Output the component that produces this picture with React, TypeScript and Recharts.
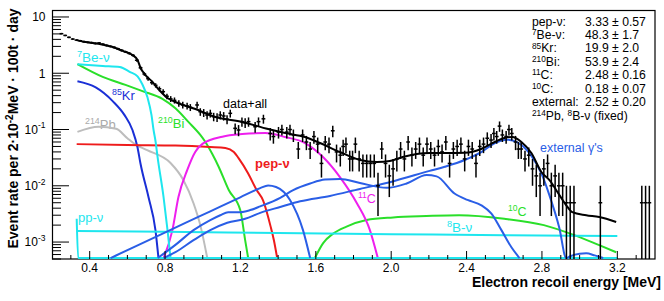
import React from 'react';
import { ComposedChart, Line, Scatter, XAxis, YAxis, ErrorBar } from 'recharts';

const FONT = '"Liberation Sans", Arial, Helvetica, sans-serif';
const Y_MIN = 5e-4;
const Y_MAX = 13.3;
const FLOOR = 5.2e-4;
const BIN_HALF = 0.01;

const CYAN = '#1ee6ee';
const GREEN = '#2adf2a';
const BLUE_KR = '#1a2fd6';
const BLUE_EXT = '#2a5ee6';
const GRAY = '#bdbdbd';
const RED = '#ee1b1b';
const MAGENTA = '#ee1fee';

// measured spectrum: [energy MeV, rate, sigma]
const measured: [number, number, number][] = [
  [0.25, 5.05, 0.159], [0.27, 4.7, 0.153], [0.29, 4.35, 0.147], [0.31, 4.05, 0.142], [0.33, 3.88, 0.139],
  [0.35, 3.78, 0.137], [0.37, 3.63, 0.135], [0.39, 3.55, 0.133], [0.41, 3.5, 0.132], [0.43, 3.38, 0.13],
  [0.45, 3.45, 0.131], [0.47, 3.28, 0.128], [0.49, 3.12, 0.125], [0.51, 3.0, 0.122], [0.53, 2.88, 0.12],
  [0.55, 2.72, 0.117], [0.57, 2.55, 0.113], [0.59, 2.4, 0.11], [0.61, 2.25, 0.106], [0.63, 2.08, 0.102],
  [0.65, 1.7, 0.092], [0.67, 1.25, 0.079], [0.69, 0.97, 0.07], [0.71, 0.8, 0.063], [0.73, 0.68, 0.058],
  [0.75, 0.61, 0.055], [0.77, 0.53, 0.051], [0.79, 0.47, 0.048], [0.81, 0.39, 0.044], [0.83, 0.35, 0.042],
  [0.85, 0.33, 0.041], [0.873, 0.292, 0.038], [0.894, 0.273, 0.037], [0.917, 0.262, 0.036], [0.934, 0.248, 0.035],
  [0.97, 0.273, 0.037], [0.987, 0.207, 0.032], [1.005, 0.199, 0.032], [1.023, 0.181, 0.03], [1.04, 0.194, 0.031],
  [1.058, 0.169, 0.029], [1.076, 0.165, 0.029], [1.093, 0.181, 0.03], [1.111, 0.174, 0.03], [1.129, 0.152, 0.028],
  [1.146, 0.194, 0.031], [1.172, 0.105, 0.023], [1.19, 0.098, 0.022], [1.208, 0.138, 0.026], [1.225, 0.132, 0.026],
  [1.243, 0.138, 0.026], [1.278, 0.112, 0.024], [1.296, 0.138, 0.026], [1.322, 0.155, 0.028], [1.358, 0.085, 0.021],
  [1.375, 0.075, 0.019], [1.402, 0.09, 0.021], [1.42, 0.1, 0.022], [1.446, 0.09, 0.021], [1.463, 0.1, 0.022],
  [1.481, 0.08, 0.02], [1.507, 0.045, 0.015], [1.53, 0.08, 0.02], [1.55, 0.06, 0.017], [1.57, 0.045, 0.015],
  [1.59, 0.075, 0.019], [1.61, 0.055, 0.017], [1.63, 0.025, 0.011], [1.65, 0.06, 0.017], [1.67, 0.055, 0.017],
  [1.69, 0.095, 0.022], [1.71, 0.04, 0.014], [1.73, 0.035, 0.013], [1.745, 0.05, 0.016], [1.76, 0.055, 0.017],
  [1.78, 0.03, 0.012], [1.795, 0.03, 0.012], [1.81, 0.055, 0.017], [1.83, 0.03, 0.012], [1.85, 0.025, 0.011],
  [1.87, 0.025, 0.011], [1.89, 0.025, 0.011], [1.91, 0.025, 0.011], [1.93, 0.01, 0.0071], [1.95, 0.045, 0.015],
  [1.97, 0.025, 0.011], [1.99, 0.015, 0.0087], [2.01, 0.02, 0.01], [2.03, 0.03, 0.012], [2.05, 0.045, 0.015],
  [2.07, 0.03, 0.012], [2.09, 0.06, 0.017], [2.11, 0.035, 0.013], [2.13, 0.045, 0.015], [2.15, 0.055, 0.017],
  [2.17, 0.035, 0.013], [2.19, 0.055, 0.017], [2.21, 0.045, 0.015], [2.23, 0.035, 0.013], [2.25, 0.05, 0.016],
  [2.27, 0.04, 0.014], [2.29, 0.06, 0.017], [2.31, 0.025, 0.011], [2.33, 0.045, 0.015], [2.35, 0.05, 0.016],
  [2.37, 0.055, 0.017], [2.39, 0.03, 0.012], [2.41, 0.05, 0.016], [2.43, 0.045, 0.015], [2.45, 0.025, 0.011],
  [2.47, 0.05, 0.016], [2.49, 0.055, 0.017], [2.51, 0.07, 0.019], [2.53, 0.065, 0.018], [2.545, 0.085, 0.021],
  [2.56, 0.075, 0.019], [2.575, 0.115, 0.024], [2.59, 0.08, 0.02], [2.61, 0.075, 0.019], [2.625, 0.1, 0.022],
  [2.64, 0.085, 0.021], [2.66, 0.06, 0.017], [2.675, 0.045, 0.015], [2.69, 0.045, 0.015], [2.71, 0.03, 0.012],
  [2.73, 0.035, 0.013], [2.75, 0.02, 0.01], [2.77, 0.015, 0.0087], [2.79, 0.01, 0.0071], [2.81, 0.02, 0.01],
  [2.83, 0.025, 0.011], [2.85, 0.01, 0.0071], [2.87, 0.015, 0.0087], [2.89, 0.01, 0.0071], [2.91, 0.01, 0.0071],
  [2.93, 0.005, 0.005], [2.95, 0.005, 0.005], [2.97, 0.005, 0.005], [3.11, 0.005, 0.005], [3.33, 0.005, 0.005],
  [3.35, 0.005, 0.005], [3.37, 0.005, 0.005],
];

const totalFit: [number, number][] = [
  [0.33, 3.88], [0.379, 3.59], [0.453, 3.31], [0.522, 2.93], [0.575, 2.49], [0.627, 2.11], [0.654, 1.72],
  [0.67, 1.24], [0.696, 0.93], [0.733, 0.7], [0.77, 0.5], [0.813, 0.363], [0.855, 0.308], [0.961, 0.231],
  [1.067, 0.167], [1.21, 0.136], [1.347, 0.102], [1.437, 0.0866], [1.543, 0.0736], [1.622, 0.0575],
  [1.728, 0.0398], [1.834, 0.0287], [1.924, 0.0264], [1.993, 0.0275], [2.061, 0.0324], [2.135, 0.0367],
  [2.204, 0.0382], [2.284, 0.0382], [2.39, 0.0385], [2.48, 0.0455], [2.532, 0.056], [2.601, 0.0706],
  [2.643, 0.0736], [2.691, 0.06], [2.744, 0.0382], [2.797, 0.0176], [2.839, 0.0127], [2.892, 0.0069],
  [2.929, 0.0045], [2.961, 0.0034], [3.035, 0.003], [3.104, 0.00278], [3.194, 0.00227],
];

const be7: [number, number][] = [
  [0.335, 1.45], [0.47, 1.35], [0.56, 1.29], [0.612, 1.06], [0.654, 0.88], [0.68, 0.63], [0.707, 0.37],
  [0.728, 0.18], [0.739, 0.098], [0.75, 0.06], [0.76, 0.033], [0.792, 0.0063], [0.813, 0.00163], [0.829, FLOOR],
];

const bi210: [number, number][] = [
  [0.335, 1.45], [0.469, 0.86], [0.59, 0.62], [0.68, 0.48], [0.786, 0.35], [0.855, 0.238], [0.925, 0.135],
  [0.987, 0.08], [1.014, 0.06], [1.05, 0.037], [1.085, 0.0216], [1.138, 0.0084], [1.199, 0.0037],
  [1.225, 0.00108], [1.241, FLOOR],
];

const kr85: [number, number][] = [
  [0.335, 0.72], [0.432, 0.56], [0.522, 0.32], [0.585, 0.18], [0.627, 0.098], [0.654, 0.048],
  [0.669, 0.0254], [0.712, 0.0063], [0.749, 0.00163], [0.765, FLOOR],
];

const pb214: [number, number][] = [
  [0.335, 0.091], [0.447, 0.112], [0.54, 0.103], [0.6, 0.07], [0.64, 0.055], [0.705, 0.043], [0.829, 0.0254],
  [0.897, 0.0127], [0.951, 0.0049], [0.987, 0.002], [1.024, FLOOR],
];

const pep: [number, number][] = [
  [0.331, 0.055], [0.6, 0.053], [0.855, 0.052], [1.04, 0.049], [1.12, 0.047], [1.165, 0.04], [1.19, 0.031],
  [1.241, 0.0166], [1.286, 0.0084], [1.32, 0.0055], [1.36, 0.0019], [1.377, 0.0011], [1.395, FLOOR],
];

const c11: [number, number][] = [
  [0.792, FLOOR], [0.839, 0.00163], [0.871, 0.0063], [0.918, 0.0191], [0.96, 0.0398], [1.0, 0.056],
  [1.104, 0.0745], [1.209, 0.083], [1.331, 0.0866], [1.437, 0.0736], [1.543, 0.0575], [1.638, 0.0325],
  [1.728, 0.0143], [1.818, 0.0049], [1.887, 0.00163], [1.929, FLOOR],
];

const c10: [number, number][] = [
  [1.595, FLOOR], [1.639, 0.00096], [1.692, 0.00141], [1.763, 0.00188], [1.869, 0.00246], [2.01, 0.00274],
  [2.187, 0.0029], [2.36, 0.003], [2.6, 0.0026], [2.81, 0.002], [2.971, 0.00133], [3.104, 0.00088], [3.194, 0.00066],
];

const extK40: [number, number][] = [
  [0.511, FLOOR], [0.643, 0.00084], [0.776, 0.00136], [0.908, 0.00219], [1.04, 0.00352], [1.199, 0.00624],
  [1.305, 0.0091], [1.347, 0.0101], [1.389, 0.0095], [1.463, 0.0056], [1.532, 0.00163], [1.57, FLOOR],
];

const extBi214: [number, number][] = [
  [0.761, FLOOR], [0.855, 0.00089], [0.951, 0.00163], [1.04, 0.00246], [1.093, 0.003], [1.135, 0.0034],
  [1.199, 0.0034], [1.252, 0.0037], [1.305, 0.0043], [1.411, 0.0061], [1.48, 0.0084], [1.57, 0.011],
  [1.649, 0.0129], [1.728, 0.0132], [1.834, 0.0112], [1.977, 0.0092], [2.082, 0.011], [2.188, 0.0155],
  [2.241, 0.0147], [2.336, 0.0073], [2.405, 0.0056], [2.479, 0.0045], [2.532, 0.0032], [2.585, 0.00163],
  [2.638, 0.00081], [2.681, FLOOR],
];

const extTl208: [number, number][] = [
  [0.792, FLOOR], [0.855, 0.00066], [0.951, 0.00108], [1.04, 0.00163], [1.13, 0.0022], [1.225, 0.0026],
  [1.305, 0.0033], [1.411, 0.0042], [1.517, 0.0053], [1.675, 0.0066], [1.834, 0.0088], [1.993, 0.0116],
  [2.204, 0.0184], [2.284, 0.0218], [2.39, 0.0287], [2.48, 0.04], [2.548, 0.057], [2.617, 0.066],
  [2.67, 0.059], [2.744, 0.034], [2.797, 0.0166], [2.839, 0.0069], [2.892, 0.0018], [2.929, FLOOR],
  [2.95, 0.00056], [3.0, 0.00062], [3.035, 0.00063], [3.08, 0.00058], [3.125, FLOOR],
];

const b8: [number, number][] = [
  [0.331, 0.00158], [0.8, 0.00153], [1.4, 0.00145], [2.0, 0.00138], [2.6, 0.00132], [3.2, 0.00128],
];

const pp: [number, number][] = [
  [0.331, 0.0026], [0.339, FLOOR], [3.2, FLOOR],
];

const xTicks = [0.3, 0.4, 0.5, 0.6, 0.7, 0.8, 0.9, 1.0, 1.1, 1.2, 1.3, 1.4, 1.5, 1.6, 1.7, 1.8, 1.9, 2.0,
  2.1, 2.2, 2.3, 2.4, 2.5, 2.6, 2.7, 2.8, 2.9, 3.0, 3.1, 3.2, 3.3];
const xTickLabels: Record<string, string> = {
  '0.4': '0.4', '0.8': '0.8', '1.2': '1.2', '1.6': '1.6', '2': '2.0', '2.4': '2.4', '2.8': '2.8', '3.2': '3.2',
};
const yTicks = [0.0005, 0.0006, 0.0007, 0.0008, 0.0009, 0.001, 0.002, 0.003, 0.004, 0.005, 0.006, 0.007,
  0.008, 0.009, 0.01, 0.02, 0.03, 0.04, 0.05, 0.06, 0.07, 0.08, 0.09, 0.1, 0.2, 0.3, 0.4, 0.5, 0.6, 0.7,
  0.8, 0.9, 1, 2, 3, 4, 5, 6, 7, 8, 9, 10];
const yTickLabels: Record<string, [string, string]> = {
  '0.001': ['10', '-3'], '0.01': ['10', '-2'], '0.1': ['10', '-1'], '1': ['1', ''], '10': ['10', ''],
};

const statNames: [string, string][] = [
  ['', 'pep-ν:'], ['7', 'Be-ν:'], ['85', 'Kr:'], ['210', 'Bi:'], ['11', 'C:'], ['10', 'C:'], ['', 'external:'],
];
const statValues = ['3.33 ± 0.57', '48.3 ± 1.7', '19.9 ± 2.0', '53.9 ± 2.4', '2.48 ± 0.16', '0.18 ± 0.07', '2.52 ± 0.20'];

const rows = (pts: [number, number][]) => pts.map(([E, v]) => ({ E, v }));
const measuredRows = measured.map(([E, v, s]) => ({
  E,
  v,
  yerr: [Math.min(s, v - Y_MIN * 1.0001), s],
  xerr: BIN_HALF,
}));

const YTick = (props: any) => {
  const { x, y, payload } = props;
  const key = String(payload.value);
  const lbl = yTickLabels[key];
  const major = !!lbl;
  return (
    <g>
      <line x1={x} x2={x + (major ? 17 : 9)} y1={y} y2={y} stroke="#000" strokeWidth={1} />
      {lbl && (
        <text x={45.5} y={y + 4.3} textAnchor="end" fontSize={12} fontFamily={FONT} fill="#000">
          {lbl[0]}
          {lbl[1] && <tspan fontSize={8.5} dy={-5.5}>{lbl[1]}</tspan>}
        </text>
      )}
    </g>
  );
};

const XTick = (props: any) => {
  const { x, y, payload } = props;
  const key = String(Math.round(payload.value * 10) / 10);
  const lbl = xTickLabels[key];
  return (
    <g>
      <line x1={x} x2={x} y1={y} y2={y - (lbl ? 8 : 4)} stroke="#000" strokeWidth={1} />
      {lbl && (
        <text x={x} y={y + 13} textAnchor="middle" fontSize={12} fontFamily={FONT} fill="#000">
          {lbl}
        </text>
      )}
    </g>
  );
};

const Label = ({ x, y, sup, text, size, color, bold, raise }: any) => {
  const r = raise ?? size * 0.38;
  return (
    <text x={x} y={y} fill={color} fontSize={size} fontFamily={FONT} fontWeight={bold ? 'bold' : 'normal'}>
      {sup ? (
        <>
          <tspan fontSize={size * 0.68} dy={-r}>{sup}</tspan>
          <tspan dy={r}>{text}</tspan>
        </>
      ) : (
        text
      )}
    </text>
  );
};

const lineProps = {
  type: 'monotone' as const,
  dataKey: 'v',
  dot: false,
  activeDot: false,
  isAnimationActive: false,
  strokeWidth: 2,
};

const STAT_SIZE = 12.2;
const STAT_Y0 = 25.5;
const STAT_DY = 13.43;

export default function App() {
  return (
    <div style={{ position: 'absolute', left: 0, top: 0, width: 664, height: 301, background: '#fff' }}>
      <svg width={664} height={301} style={{ position: 'absolute', left: 0, top: 0 }}>
        <rect x={52.5} y={10.5} width={602.5} height={248.5} fill="none" stroke="#000" strokeWidth={1.2} />
        <text
          transform="translate(18,128.5) rotate(-90)"
          textAnchor="middle"
          fontSize={14}
          fontWeight="bold"
          fontFamily={FONT}
          fill="#000"
        >
          Event rate per 2·10<tspan fontSize={10} dy={-5}>-2</tspan>
          <tspan dy={5}>MeV · 100t · day</tspan>
        </text>
        <text x={661} y={287} textAnchor="end" fontSize={14} fontWeight="bold" fontFamily={FONT} fill="#000">
          Electron recoil energy [MeV]
        </text>
        {statNames.map(([sup, name], i) => (
          <g key={i}>
            <Label x={532} y={STAT_Y0 + i * STAT_DY} sup={sup} text={name} size={STAT_SIZE} color="#000" raise={3.8} />
            <text x={585} y={STAT_Y0 + i * STAT_DY} fontSize={STAT_SIZE} fontFamily={FONT} fill="#000">
              {statValues[i]}
            </text>
          </g>
        ))}
        <text x={532} y={STAT_Y0 + 7 * STAT_DY} fontSize={STAT_SIZE} fontFamily={FONT} fill="#000">
          <tspan fontSize={8.3} dy={-3.8}>214</tspan>
          <tspan dy={3.8}>Pb, </tspan>
          <tspan fontSize={8.3} dy={-3.8}>8</tspan>
          <tspan dy={3.8}>B-ν (fixed)</tspan>
        </text>
        <Label x={77} y={62} sup="7" text="Be-ν" size={13.5} color={CYAN} />
        <Label x={112} y={100} sup="85" text="Kr" size={13} color={BLUE_KR} />
        <Label x={85} y={129} sup="214" text="Pb" size={13} color="#aaaaaa" />
        <Label x={158} y={128} sup="210" text="Bi" size={13} color={GREEN} />
        <Label x={223} y={108} text="data+all" size={12.5} color="#000" />
        <Label x={255} y={168} text="pep-ν" size={13} color={RED} bold />
        <Label x={358} y={203} sup="11" text="C" size={12.5} color={MAGENTA} />
        <Label x={447} y={232} sup="8" text="B-ν" size={13.5} color={CYAN} />
        <Label x={508} y={216} sup="10" text="C" size={12.5} color={GREEN} />
        <Label x={540} y={152} text="external γ's" size={12.5} color={BLUE_EXT} />
        <Label x={78} y={222} text="pp-ν" size={13} color={CYAN} />
      </svg>
      <div style={{ position: 'absolute', left: 0, top: 0 }}>
        <ComposedChart width={664} height={301} margin={{ top: 10, right: 9, bottom: 0, left: 0 }}>
          <XAxis
            type="number"
            dataKey="E"
            domain={[0.2, 3.4]}
            allowDataOverflow
            ticks={xTicks}
            interval={0}
            tick={(p: any) => <XTick {...p} />}
            tickLine={false}
            axisLine={false}
            tickSize={0}
            tickMargin={0}
            height={42}
          />
          <YAxis
            type="number"
            dataKey="v"
            scale="log"
            domain={[Y_MIN, Y_MAX]}
            allowDataOverflow
            ticks={yTicks}
            interval={0}
            tick={(p: any) => <YTick {...p} />}
            tickLine={false}
            axisLine={false}
            tickSize={0}
            tickMargin={0}
            width={52}
          />
          <Line {...lineProps} data={rows(pb214)} stroke={GRAY} />
          <Line {...lineProps} data={rows(kr85)} stroke={BLUE_KR} />
          <Line {...lineProps} data={rows(bi210)} stroke={GREEN} />
          <Line {...lineProps} data={rows(c10)} stroke={GREEN} />
          <Line {...lineProps} data={rows(pep)} stroke={RED} />
          <Line {...lineProps} data={rows(c11)} stroke={MAGENTA} />
          <Line {...lineProps} data={rows(be7)} stroke={CYAN} />
          <Line {...lineProps} data={rows(b8)} stroke={CYAN} />
          <Line {...lineProps} data={rows(pp)} stroke={CYAN} />
          <Line {...lineProps} data={rows(extK40)} stroke={BLUE_EXT} />
          <Line {...lineProps} data={rows(extBi214)} stroke={BLUE_EXT} />
          <Line {...lineProps} data={rows(extTl208)} stroke={BLUE_EXT} />
          <Line {...lineProps} data={rows(totalFit)} stroke="#000" />
          <Scatter data={measuredRows} dataKey="v" isAnimationActive={false} shape={() => <g />}>
            <ErrorBar dataKey="yerr" direction="y" width={0} stroke="#000" strokeWidth={1.5} isAnimationActive={false} />
            <ErrorBar dataKey="xerr" direction="x" width={0} stroke="#000" strokeWidth={1.5} isAnimationActive={false} />
          </Scatter>
        </ComposedChart>
      </div>
    </div>
  );
}
